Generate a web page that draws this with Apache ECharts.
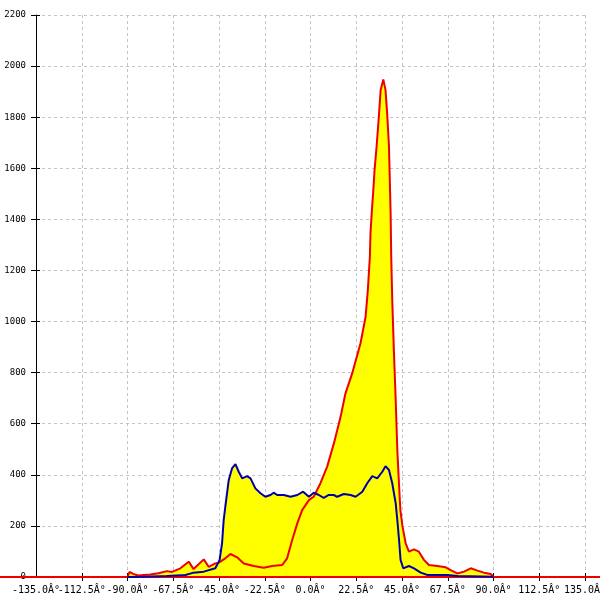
<!DOCTYPE html>
<html>
<head>
<meta charset="utf-8">
<script src="https://cdn.jsdelivr.net/npm/echarts@6/dist/echarts.min.js"></script>
<style>html,body{margin:0;padding:0;background:#fff}#c{width:600px;height:600px}</style>
</head>
<body>
<div id="c"></div>
<script>
const xTicks = [-135, -112.5, -90, -67.5, -45, -22.5, 0, 22.5, 45, 67.5, 90, 112.5, 135];
const yTicks = [0, 200, 400, 600, 800, 1000, 1200, 1400, 1600, 1800, 2000, 2200];

const redAngles = [-90, -89.0, -87.2, -84.7, -82.2, -78.8, -74.8, -70.6, -68.1, -64.0, -59.9, -57.5, -52.5, -50.1, -46.8, -45.1, -41.9, -39.4, -36.1, -32.8, -27.9, -23.0, -18.9, -13.9, -11.5, -9.0, -6.5, -4.1, -0.8, 1.6, 4.9, 8.2, 11.5, 14.8, 17.2, 20.5, 24.6, 27.1, 28.2, 29.2, 29.5, 30.2, 30.9, 31.5, 32.5, 33.6, 34.5, 35.8, 36.9, 37.8, 38.6, 39.0, 39.4, 39.7, 40.2, 41.0, 41.9, 42.7, 43.5, 44.2, 45.2, 46.8, 48.4, 50.9, 53.3, 55.8, 58.2, 62.4, 66.5, 68.9, 72.2, 75.5, 78.8, 82.1, 85.3, 88.6, 90.2];
const redValues = [0, 20, 12, 6, 8, 10, 15, 23, 20, 34, 60, 31, 69, 40, 53, 56, 73, 90, 77, 53, 43, 36, 43, 47, 73, 145, 210, 262, 301, 314, 367, 432, 523, 627, 719, 797, 915, 1019, 1123, 1254, 1346, 1436, 1515, 1593, 1684, 1801, 1906, 1948, 1906, 1801, 1684, 1554, 1425, 1254, 1084, 888, 693, 497, 367, 262, 200, 132, 99, 108, 99, 67, 47, 43, 38, 27, 14, 21, 34, 25, 17, 12, 0];

const blueAngles = [-90, -82.1, -70.6, -61.5, -57.5, -52.5, -46.8, -44.7, -43.5, -42.7, -41.9, -40.2, -38.6, -36.9, -35.3, -33.6, -31.2, -29.5, -27.1, -24.6, -22.2, -19.7, -18.1, -16.4, -13.1, -9.8, -6.5, -3.6, -0.8, 1.6, 4.1, 6.5, 9.0, 11.5, 13.1, 16.4, 19.7, 22.2, 25.5, 27.9, 30.4, 32.8, 35.3, 36.9, 38.6, 40.2, 41.9, 42.7, 43.6, 44.3, 45.6, 48.4, 50.9, 54.2, 57.5, 67.3, 72.2, 90];
const blueValues = [0, 1, 4, 8, 17, 21, 34, 67, 132, 223, 275, 380, 425, 442, 412, 386, 395, 386, 347, 328, 314, 321, 330, 321, 321, 314, 321, 334, 314, 330, 321, 310, 321, 321, 314, 325, 321, 314, 334, 367, 395, 386, 412, 434, 419, 367, 288, 223, 140, 67, 34, 43, 34, 17, 8, 8, 4, 1];

const pairs = (a, b) => a.map((x, i) => [x, b[i]]);
const redData = pairs(redAngles, redValues);
const blueData = pairs(blueAngles, blueValues);

const monoFont = '"DejaVu Sans Mono", monospace';
const gridLine = { show: true, lineStyle: { color: '#c4c4c4', type: [3, 3], width: 1 } };
const fmtX = v => v.toFixed(1) + 'Â°';

const chart = echarts.init(document.getElementById('c'), null, { renderer: 'canvas' });
chart.setOption({
  animation: false,
  backgroundColor: '#ffffff',
  grid: [
    { left: 36, right: 15, top: 15, bottom: 23, containLabel: false, outerBoundsMode: 'none' },
    { left: 0, right: 0, top: 15, bottom: 23, containLabel: false, outerBoundsMode: 'none' }
  ],
  xAxis: [{
    type: 'value', min: -135, max: 135, interval: 22.5, gridIndex: 0,
    axisLine: { show: true, onZero: false, lineStyle: { color: '#000', width: 1 } },
    axisTick: { show: true, inside: false, length: 4, lineStyle: { color: '#000' } },
    axisLabel: { show: true, margin: 8, color: '#000', fontFamily: monoFont, fontSize: 10,
      showMinLabel: false, showMaxLabel: true, hideOverlap: false, formatter: fmtX },
    splitLine: gridLine
  }, {
    type: 'value', min: -135, max: 135, interval: 22.5, position: 'bottom', gridIndex: 0,
    axisLine: { show: false, onZero: false },
    axisTick: { show: true, inside: true, length: 4, lineStyle: { color: '#000' } },
    axisLabel: { show: true, margin: 8, color: '#000', fontFamily: monoFont, fontSize: 10,
      showMinLabel: true, hideOverlap: false,
      formatter: v => (v === -135 ? fmtX(v) : '') },
    splitLine: { show: false }
  }, {
    type: 'value', min: 0, max: 1, gridIndex: 1, position: 'bottom', z: 3,
    axisLine: { show: true, onZero: false, lineStyle: { color: '#ee0000', width: 2 } },
    axisTick: { show: false }, axisLabel: { show: false }, splitLine: { show: false }
  }],
  yAxis: [{
    type: 'value', min: 0, max: 2200, interval: 200, gridIndex: 0,
    axisLine: { show: true, onZero: false, lineStyle: { color: '#000', width: 1 } },
    axisTick: { show: true, inside: false, length: 5, lineStyle: { color: '#000' } },
    axisLabel: { show: true, margin: 10, color: '#000', fontFamily: monoFont, fontSize: 9,
      showMinLabel: true, showMaxLabel: true, hideOverlap: false,
      formatter: v => String(v) },
    splitLine: gridLine
  }, {
    type: 'value', min: 0, max: 2200, interval: 200, position: 'left', gridIndex: 0,
    axisLine: { show: false, onZero: false },
    axisTick: { show: true, inside: true, length: 4, lineStyle: { color: '#000' } },
    axisLabel: { show: false }, splitLine: { show: false }
  }, {
    type: 'value', min: 0, max: 1, gridIndex: 1, show: false
  }],
  series: [
    { type: 'line', data: blueData, symbol: 'none', z: 2, lineStyle: { width: 0 },
      areaStyle: { color: '#ffff00', opacity: 1 } },
    { type: 'line', data: redData, symbol: 'none', z: 2, lineStyle: { width: 0 },
      areaStyle: { color: '#ffff00', opacity: 1 } },
    { type: 'line', data: redData, symbol: 'none', z: 4,
      lineStyle: { color: '#ee0000', width: 2 } },
    { type: 'line', data: blueData, symbol: 'none', z: 5,
      lineStyle: { color: '#0000aa', width: 2 } }
  ]
});
</script>
</body>
</html>
